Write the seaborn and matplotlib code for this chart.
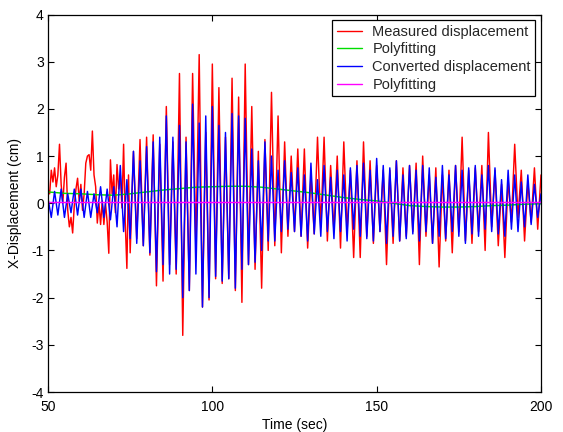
import numpy as np
import pandas as pd
import matplotlib
matplotlib.use("Agg")
import matplotlib.pyplot as plt
import seaborn as sns

# ---- data ----
# measured: 0.5 s samples for 50-75 s, then 1 s samples for 76-200 s
measured_early = [
    0.3, 0.2, 0.7, 0.45, 0.75, 0.35, 0.6, 1.25, 0.4, 0.0,
    0.55, 0.85, -0.15, -0.5, -0.3, -0.63, -0.05, 0.3, 0.53, 0.05,
    0.4, -0.15, 0.2, 0.85, 1.0, 1.03, 0.7, 1.53, 0.6, 0.35,
    -0.42, 0.0, -0.45, 0.05, -0.45, 0.0, -0.4, -1.06, 0.92, 0.2,
    0.6, -0.2, 0.82, 0.3, 0.6, -0.1, 1.25, -0.4, -1.38, 0.6,
    -1.05,
]
measured_late = [
    1.1, -0.75, 1.35, -0.9,
    1.4, -1.1, 1.45, -1.75, 1.25, -1.65, 2.05, -1.3, 1.3, -1.5,
    2.75, -2.8, 1.4, -1.85, 2.75, -1.0, 3.15, -2.2, 1.5, -2.05,
    2.95, -1.6, 2.45, -1.7, 1.4, -1.6, 2.65, -1.85, 2.25, -2.1,
    2.95, -1.3, 2.05, -1.4, 1.1, -1.8, 1.35, -1.0, 2.35, -0.9,
    1.85, -1.05, 1.3, -0.7, 1.0, -0.6, 1.15, -0.7, 1.15, -0.95,
    0.6, -0.65, 1.4, -0.5, 1.4, -0.8, 0.8, -0.6, 1.0, -0.95,
    1.3, -0.6, 0.7, -1.15, 0.9, -1.15, 1.3, -0.7, 0.9, -0.85,
    0.8, -0.6, 0.7, -1.3, 0.7, -0.85, 0.9, -0.8, 0.75, -0.7,
    0.8, -0.6, 0.85, -1.3, 1.0, -0.7, 0.6, -0.85, 0.75, -1.35,
    0.6, -0.8, 0.7, -1.05, 0.8, -0.6, 1.4, -0.8, 0.7, -0.85,
    0.75, -0.6, 0.8, -1.0, 1.5, -0.5, 0.7, -0.9, 0.4, -1.15,
    0.5, -0.4, 1.25, -0.3, 0.7, -0.8, 0.45, -0.4, 0.75, -0.55,
    0.6,
]

converted = [
    0.1, -0.3, 0.25, -0.25, 0.3, -0.3, 0.2, -0.2, 0.3, -0.25,
    0.3, -0.3, 0.25, -0.3, 0.2, -0.2, 0.35, -0.3, 0.3, -0.35,
    0.35, -0.5, 0.8, -0.6, 0.5, -0.75, 1.1, -0.85, 0.9, -0.9,
    1.2, -1.05, 1.3, -1.45, 1.4, -1.3, 1.85, -1.5, 1.4, -1.4,
    1.65, -2.0, 1.3, -1.85, 2.1, -1.5, 1.7, -2.2, 1.85, -2.0,
    2.05, -1.55, 1.65, -1.65, 1.5, -1.6, 1.9, -1.8, 1.85, -1.4,
    1.8, -1.3, 1.15, -1.25, 0.9, -1.0, 1.3, -0.8, 1.0, -0.8,
    0.7, -0.6, 0.9, -0.55, 0.65, -0.6, 0.75, -0.7, 0.6, -0.8,
    0.85, -0.65, 0.5, -0.7, 0.8, -0.6, 0.55, -0.75, 0.7, -0.6,
    0.6, -0.8, 0.75, -0.55, 0.8, -0.7, 0.85, -0.75, 0.7, -0.8,
    0.95, -0.6, 0.8, -0.85, 0.75, -0.7, 0.9, -0.8, 0.6, -0.75,
    0.8, -0.65, 0.7, -0.8, 0.8, -0.6, 0.75, -0.85, 0.55, -0.7,
    0.8, -0.75, 0.6, -0.6, 0.8, -0.7, 0.7, -0.85, 0.75, -0.65,
    0.8, -0.7, 0.6, -0.55, 0.8, -0.6, 0.75, -0.65, 0.5, -0.7,
    0.7, -0.55, 0.6, -0.6, 0.45, -0.5, 0.6, -0.45, 0.4, -0.3,
    0.2,
]

fit_time = [50, 55, 60, 65, 70, 75, 80, 85, 90, 95, 100, 105, 110, 115, 120,
            125, 130, 135, 140, 145, 150, 155, 160, 165, 170, 175, 180, 185,
            190, 195, 200]
measured_fit = [0.24, 0.21, 0.2, 0.18, 0.17, 0.2, 0.24, 0.28, 0.31, 0.34, 0.35,
                0.36, 0.36, 0.34, 0.3, 0.26, 0.22, 0.17, 0.12, 0.08, 0.05, 0.0,
                -0.05, -0.07, -0.08, -0.08, -0.07, -0.05, -0.04, -0.02, -0.01]
converted_fit_time = [50, 200]
converted_fit = [0.02, 0.02]

x_ticks = [50, 100, 150, 200]
y_ticks = [-4, -3, -2, -1, 0, 1, 2, 3, 4]

measured_time = np.concatenate([np.arange(50, 75.01, 0.5),
                                np.arange(76, 200.01, 1.0)])
measured = measured_early + measured_late
converted_time = np.arange(50, 200.01, 1.0)

# ---- plot ----
sns.set_theme(style="ticks")
plt.rcParams["font.family"] = ["Liberation Sans", "DejaVu Sans"]

fig = plt.figure(figsize=(5.63, 4.32), dpi=100)
ax = fig.add_axes([48 / 563, 1 - 392 / 432, 493 / 563, 377.5 / 432])

lw = 1.05
sns.lineplot(x=measured_time, y=measured, ax=ax, color="#ff0000", lw=lw,
             estimator=None, sort=False, label="Measured displacement")
sns.lineplot(x=fit_time, y=measured_fit, ax=ax, color="#00dd00", lw=lw,
             estimator=None, sort=False, label="Polyfitting")
sns.lineplot(x=converted_time, y=converted, ax=ax, color="#0000ff", lw=lw,
             estimator=None, sort=False, label="Converted displacement")
sns.lineplot(x=converted_fit_time, y=converted_fit, ax=ax, color="#ff00ff",
             lw=lw, estimator=None, sort=False, label="Polyfitting")

ax.set_xlim(50, 200)
ax.set_ylim(-4, 4)
ax.set_xticks(x_ticks)
ax.set_yticks(y_ticks)
ax.set_xticklabels([str(v) for v in x_ticks])
ax.set_yticklabels([str(v) for v in y_ticks])
ax.tick_params(direction="in", top=True, right=True, length=4, width=0.8,
               labelsize=10, colors="black", pad=3)
ax.tick_params(axis="x", pad=6)
for s in ax.spines.values():
    s.set_visible(True)
    s.set_color("black")
    s.set_linewidth(0.9)
ax.set_xlabel("Time (sec)", fontsize=10, color="black", labelpad=3)
ax.set_ylabel("X-Displacement (cm)", fontsize=10, color="black", labelpad=7)

leg = ax.legend(loc="upper right", fontsize=10.5, frameon=True, fancybox=False,
                framealpha=1, edgecolor="black", handlelength=1.75,
                handletextpad=0.7, labelspacing=0.25, borderaxespad=0.4,
                borderpad=0.3)
leg.get_frame().set_linewidth(0.9)
for h in leg.get_lines():
    h.set_linewidth(1.0)

fig.savefig("out.png", dpi=100)
